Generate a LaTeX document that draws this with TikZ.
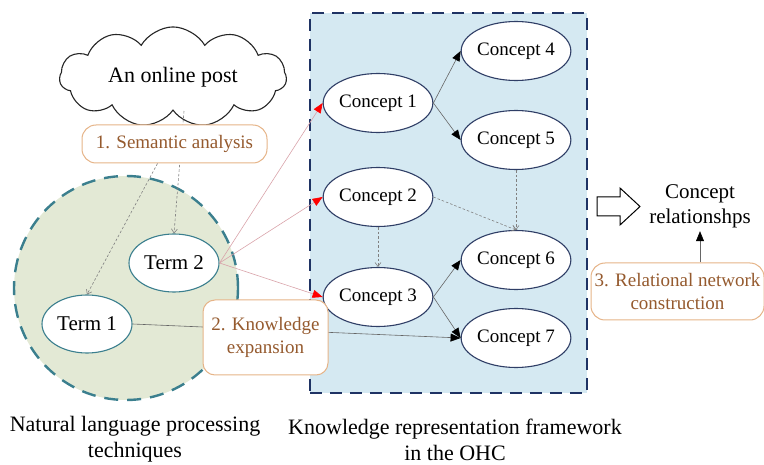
\documentclass[tikz,border=0pt]{standalone}
\usepackage{fontspec}
\setmainfont{Liberation Serif}
\usetikzlibrary{shapes.geometric,shapes.symbols,arrows.meta}
\definecolor{orb}{HTML}{E6B488}
\definecolor{ort}{HTML}{955A2E}
\definecolor{navy}{HTML}{2F3E66}
\definecolor{tealb}{HTML}{3B7F8E}
\definecolor{greenf}{HTML}{E3E9D5}
\definecolor{bluef}{HTML}{D5E9F2}
\definecolor{rectb}{HTML}{1F3364}
\definecolor{pinkl}{HTML}{D9A3AA}
\tikzset{
  concept/.style={ellipse,draw=navy,line width=1.1pt,fill=white,minimum width=105pt,minimum height=59pt,inner sep=0pt,font=\fontsize{19}{22}\selectfont},
  termnode/.style={ellipse,draw=tealb,line width=1.1pt,fill=white,minimum width=90pt,minimum height=58pt,inner sep=0pt,font=\fontsize{21}{24}\selectfont},
  stepnote/.style={rounded corners=14pt,draw=orb,line width=1pt,fill=white,text=ort,align=center,inner sep=0pt,font=\fontsize{19}{23}\selectfont},
  caption/.style={align=center,font=\fontsize{22}{26}\selectfont},
  redarr/.style={draw=pinkl,line width=0.6pt,-{Triangle[length=10pt,width=8pt,color=red,fill=red]}},
  blkarr/.style={draw=gray!80!black,line width=0.6pt,-{Triangle[length=10pt,width=8pt,color=black,fill=black]}},
  dasharr/.style={draw=gray,line width=0.6pt,dash pattern=on 2.5pt off 2pt,-{Straight Barb[length=4pt,width=6pt]}},
}
\begin{document}
\begin{tikzpicture}[x=1pt,y=-1pt]
\useasboundingbox (0,0) rectangle (764,465);
% background regions
\node[circle,minimum size=224pt,fill=greenf,draw=tealb,line width=2.4pt,dash pattern=on 14pt off 9pt,inner sep=0pt] (circ) at (126,288) {};
\node[rectangle,fill=bluef,draw=rectb,line width=2.4pt,dash pattern=on 12pt off 8pt,minimum width=277pt,minimum height=380pt,inner sep=0pt] (frame) at (448.5,203) {};
% cloud
\node[cloud,cloud puffs=11,cloud puff arc=120,aspect=2.5,draw=black!85,line width=1.1pt,fill=white,minimum width=227pt,minimum height=78pt,inner sep=0pt,font=\fontsize{22}{26}\selectfont] (cloud) at (173,77) {An online post};
% terms
\node[termnode] (t2) at (174,263) {Term 2};
\node[termnode] (t1) at (87,324) {Term 1};
% concepts
\node[concept] (c1) at (378,103) {Concept 1};
\node[concept] (c2) at (378,197) {Concept 2};
\node[concept] (c3) at (378,297) {Concept 3};
\node[concept] (c4) at (516,51) {Concept 4};
\node[concept] (c5) at (516,140) {Concept 5};
\node[concept] (c6) at (516,260) {Concept 6};
\node[concept] (c7) at (516,338) {Concept 7};
% connectors behind boxes
\draw[dasharr] ([xshift=11pt]cloud.south) -- (t2.north);
\draw[blkarr] (t1.east) -- (c7.west);
% step boxes
\node[stepnote,minimum width=185pt,minimum height=38pt] (sem) at (174.5,144) {1. Semantic analysis};
\node[stepnote,minimum width=125pt,minimum height=75pt,rounded corners=12pt] (kn) at (265.5,337.5) {2. Knowledge\\expansion};
\node[stepnote,minimum width=173pt,minimum height=57pt] (rel) at (677.5,291.5) {3. Relational network\\construction};
\draw[dasharr] ([xshift=-17pt]sem.south) -- (t1.north);
% red arrows
\draw[redarr] (t2.east) -- (c1.west);
\draw[redarr] (t2.east) -- (c2.west);
\draw[redarr] (t2.east) -- (c3.west);
% concept arrows
\draw[blkarr] (c1.east) -- (c4.west);
\draw[blkarr] (c1.east) -- (c5.west);
\draw[blkarr] (c3.east) -- (c6.west);
\draw[blkarr] (c3.east) -- (c7.west);
\draw[dasharr] (c2.south) -- (c3.north);
\draw[dasharr] (c5.south) -- (c6.north);
\draw[dasharr] (c2.east) -- (c6.north);
% outcome
\node[caption,font=\fontsize{21}{25}\selectfont] (cr) at (700,206) {Concept\\relationshps};
\draw[blkarr] (rel.north -| cr.south) -- (cr.south);
\draw[line width=1pt,fill=white] (597,197) -- (620,197) -- (620,188) -- (640,206.5) -- (620,225) -- (620,216) -- (597,216) -- cycle;
% captions
\node[caption] (cap1) at (135,439) {Natural language processing\\techniques};
\node[caption] (cap2) at (455,440) {Knowledge representation framework\\in the OHC};
\end{tikzpicture}
\end{document}
